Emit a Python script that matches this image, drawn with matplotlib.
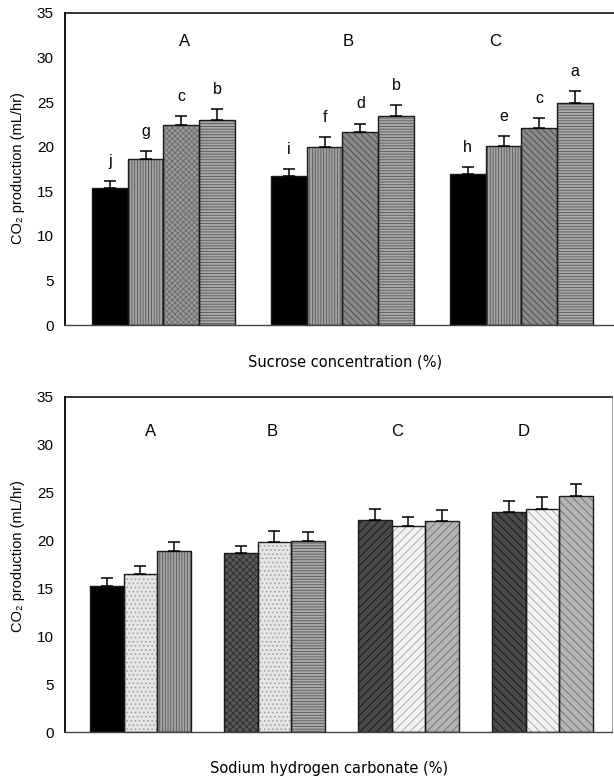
import numpy as np
import matplotlib
matplotlib.use("Agg")
import matplotlib.pyplot as plt

plt.rcParams['font.family'] = ['Liberation Sans', 'DejaVu Sans']
plt.rcParams['hatch.linewidth'] = 0.6

# top panel: sucrose concentration
top_groups = ['A', 'B', 'C']
top_means = [[15.4, 18.6, 22.4, 23.0],
             [16.7, 20.0, 21.6, 23.4],
             [16.9, 20.1, 22.1, 24.9]]
top_errs = [[0.7, 0.9, 1.0, 1.2],
            [0.75, 1.05, 1.0, 1.25],
            [0.8, 1.1, 1.15, 1.3]]
top_letters = [['j', 'g', 'c', 'b'],
               ['i', 'f', 'd', 'b'],
               ['h', 'e', 'c', 'a']]

# bottom panel: sodium hydrogen carbonate
bottom_groups = ['A', 'B', 'C', 'D']
bottom_means = [[15.3, 16.5, 18.9],
                [18.7, 19.9, 20.0],
                [22.2, 21.5, 22.0],
                [23.0, 23.3, 24.7]]
bottom_errs = [[0.8, 0.85, 0.9],
               [0.75, 1.05, 0.9],
               [1.15, 1.0, 1.15],
               [1.15, 1.25, 1.25]]

# styles (face, hatch, hatch colour) per group / bar
top_styles = [
    [('black', None, 'black'), ('#a4a4a4', '||||||', '#555555'),
     ('#9a9a9a', 'xxxxxx', '#6a6a6a'), ('#a8a8a8', '------', '#555555')],
    [('black', None, 'black'), ('#a4a4a4', '||||||', '#555555'),
     ('#8a8a8a', '\\\\\\\\\\', '#444444'), ('#a8a8a8', '------', '#555555')],
    [('black', None, 'black'), ('#a4a4a4', '||||||', '#555555'),
     ('#8a8a8a', '\\\\\\\\\\', '#444444'), ('#a8a8a8', '------', '#555555')],
]
d_fw = '////'
d_bw = '\\\\\\\\'
bottom_styles = [
    [('black', None, 'black'), ('#e6e6e6', '....', '#9a9a9a'), ('#a4a4a4', '||||||', '#555555')],
    [('#5a5a5a', 'xxxxx', '#2a2a2a'), ('#e6e6e6', '....', '#9a9a9a'), ('#a8a8a8', '------', '#555555')],
    [('#4a4a4a', d_fw, '#111111'), ('#f2f2f2', d_fw, '#a0a0a0'), ('#b4b4b4', d_fw, '#6a6a6a')],
    [('#4a4a4a', d_bw, '#111111'), ('#f2f2f2', d_bw, '#a0a0a0'), ('#b4b4b4', d_bw, '#6a6a6a')],
]

fig = plt.figure(figsize=(6.14, 7.79), dpi=100)
ax1 = fig.add_axes([65/614, 1-325/779, 549/614, 312/779])
ax2 = fig.add_axes([65/614, 1-732/779, 547/614, 335/779])


def draw_groups(ax, means, errs, styles, spacing):
    for i in range(len(means)):
        n = len(means[i])
        for j in range(n):
            x = i*spacing + (j - (n-1)/2)
            face, hatch, hcol = styles[i][j]
            ax.bar(x, means[i][j], width=1.0, color=face, hatch=hatch,
                   edgecolor=hcol, linewidth=0, zorder=2)
            ax.bar(x, means[i][j], width=1.0, fill=False, edgecolor='#1a1a1a',
                   linewidth=1.0, zorder=3)
            ax.errorbar(x, means[i][j], yerr=[[0], [errs[i][j]]], fmt='none',
                        ecolor='black', elinewidth=1.1, capsize=4.3,
                        capthick=1.1, zorder=4)


def style_axes(ax):
    ax.set_ylim(0, 35)
    ax.set_yticks(np.arange(0, 36, 5))
    ax.set_xticks([])
    ax.tick_params(axis='y', length=0, pad=8, labelsize=11)
    ax.spines['left'].set_linewidth(1.3)
    ax.spines['top'].set_linewidth(1.1)
    ax.spines['bottom'].set_linewidth(1.0)
    ax.spines['bottom'].set_color('#444444')


# top panel
draw_groups(ax1, top_means, top_errs, top_styles, 5)
ax1.set_xlim(-2.75, -2.75 + 549/35.8)
style_axes(ax1)
ax1.spines['right'].set_visible(False)
for i in range(len(top_means)):
    for j in range(4):
        x = i*5 + (j - 1.5)
        ax1.text(x, top_means[i][j] + top_errs[i][j] + 2.2, top_letters[i][j],
                 ha='center', va='center', fontsize=11.5)
for x, g in zip([0.60, 5.15, 9.26], top_groups):
    ax1.text(x, 31.8, g, ha='center', va='center', fontsize=12)

# bottom panel
draw_groups(ax2, bottom_means, bottom_errs, bottom_styles, 4)
ax2.set_xlim(-2.25, -2.25 + 547/33.5)
style_axes(ax2)
ax2.spines['right'].set_linewidth(0.6)
ax2.spines['right'].set_color('#999999')
for x, g in zip([0.29, 3.92, 7.65, 11.43], bottom_groups):
    ax2.text(x, 31.4, g, ha='center', va='center', fontsize=12)

# axis titles
fig.text(18/614, 1-168/779, 'CO\u2082 production (mL/hr)', rotation=90,
         ha='center', va='center', fontsize=10.5)
fig.text(18/614, 1-556/779, 'CO\u2082 production (mL/hr)', rotation=90,
         ha='center', va='center', fontsize=10.5)
fig.text(345/614, 1-362/779, 'Sucrose concentration (%)',
         ha='center', va='center', fontsize=10.5, family='DejaVu Sans')
fig.text(329/614, 1-769/779, 'Sodium hydrogen carbonate (%)',
         ha='center', va='center', fontsize=10.5, family='DejaVu Sans')

fig.savefig('out.png', dpi=100)
